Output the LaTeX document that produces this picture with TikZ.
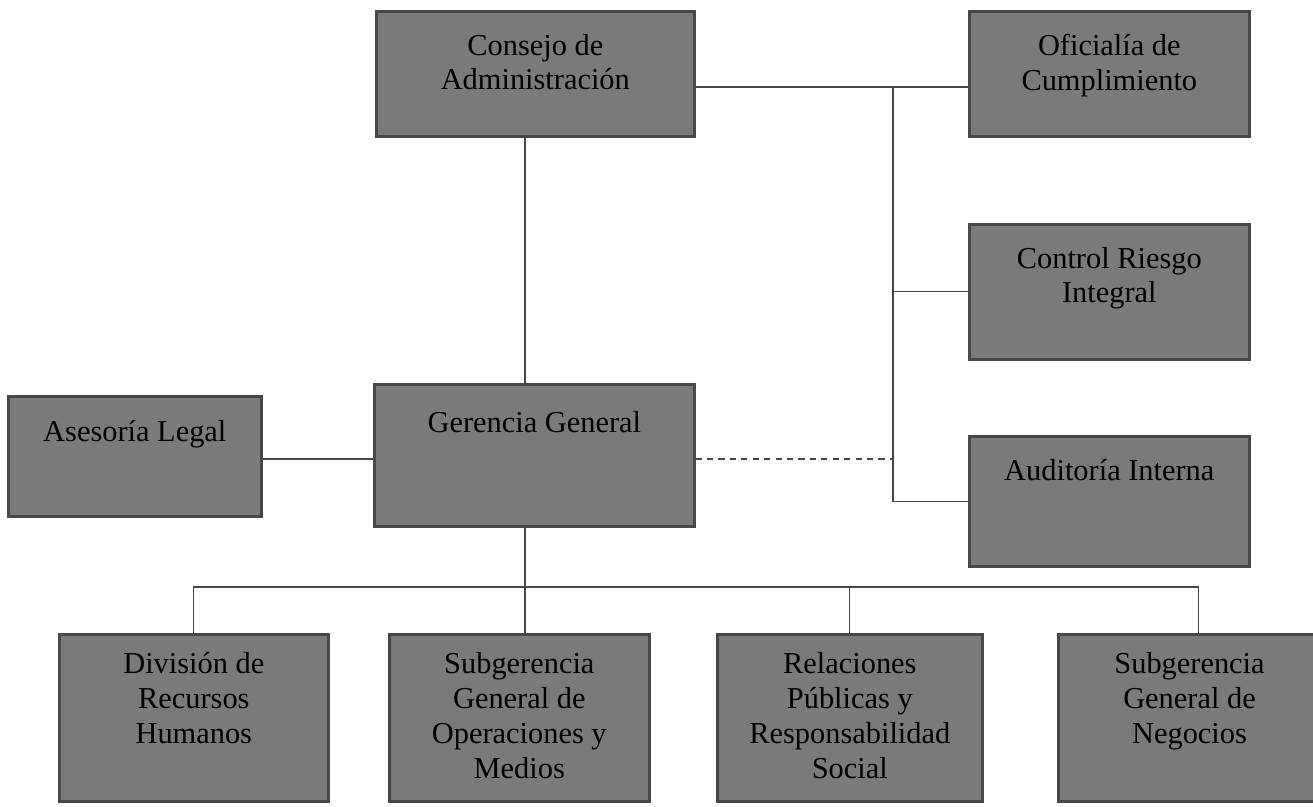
\documentclass[tikz,border=0pt]{standalone}
\usepackage{fontspec}
\setmainfont{Liberation Serif}
\usepackage{tikz}
\usetikzlibrary{positioning}
\definecolor{boxgray}{RGB}{122,122,122}
\definecolor{rimgray}{RGB}{72,72,72}
\definecolor{wiregray}{RGB}{70,70,70}
\tikzset{
unit/.style = {rectangle, draw=rimgray, fill=boxgray, line width=1.5pt, anchor=north west, inner sep=0pt},
boxtext/.style = {align=center, inner sep=0pt, font=\fontsize{17.3pt}{19.8pt}\selectfont},
link/.style = {draw=wiregray, line width=0.6pt},
dashlink/.style = {link, dash pattern=on 3.5pt off 3pt}
}

\begin{document}
\begin{tikzpicture}[x=0.02cm, y=-0.02cm]
    \useasboundingbox (0,0) rectangle (1313,807);
    % upper boxes
    \node [unit, minimum width=318*0.02cm, minimum height=125*0.02cm] (consejo) at (375,10) {};
    \node [unit, minimum width=280*0.02cm, minimum height=125*0.02cm] (oficialia) at (968,10) {};
    \node [unit, minimum width=280*0.02cm, minimum height=135*0.02cm] (control) at (968,223) {};
    \node [unit, minimum width=280*0.02cm, minimum height=130*0.02cm] (auditoria) at (968,435) {};
    \node [unit, minimum width=253*0.02cm, minimum height=120*0.02cm] (asesoria) at (7,395) {};
    \node [unit, minimum width=320*0.02cm, minimum height=142*0.02cm] (gerencia) at (373,383) {};
    % lower row
    \node [unit, minimum width=269*0.02cm, minimum height=167*0.02cm] (rrhh) at (58,633) {};
    \node [unit, minimum width=260*0.02cm, minimum height=167*0.02cm] (operaciones) at (388,633) {};
    \node [unit, minimum width=265*0.02cm, minimum height=167*0.02cm] (relaciones) at (716,633) {};
    \node [unit, minimum width=280*0.02cm, minimum height=167*0.02cm] (negocios) at (1057,633) {};

    % texts
    \node [boxtext, below=13.5pt of consejo.north] (consejo-t) {Consejo de\\Administración};
    \node [boxtext, below=13.5pt of oficialia.north] (oficialia-t) {Oficialía de\\Cumplimiento};
    \node [boxtext, below=13.5pt of control.north] (control-t) {Control Riesgo\\Integral};
    \node [boxtext, below=13.5pt of auditoria.north] (auditoria-t) {Auditoría Interna};
    \node [boxtext, below=14.5pt of asesoria.north] (asesoria-t) {Asesoría Legal};
    \node [boxtext, below=16pt of gerencia.north] (gerencia-t) {Gerencia General};
    \node [boxtext, below=11pt of rrhh.north] (rrhh-t) {División de\\Recursos\\Humanos};
    \node [boxtext, below=11pt of operaciones.north] (operaciones-t) {Subgerencia\\General de\\Operaciones y\\Medios};
    \node [boxtext, below=11pt of relaciones.north] (relaciones-t) {Relaciones\\Públicas y\\Responsabilidad\\Social};
    \node [boxtext, below=11pt of negocios.north, xshift=-5pt] (negocios-t) {Subgerencia\\General de\\Negocios};

    % connectors
    \coordinate (trunk) at (525,587);
    \coordinate (riser) at (893,87);
    \coordinate (side) at (373,459);
    \path [link] (consejo.south -| trunk) -- (gerencia.north -| trunk);
    \path [link] (asesoria.east |- side) -- (side);
    \path [link] (consejo.east |- riser) -- (oficialia.west |- riser);
    \path [link] (riser) |- (auditoria.west);
    \path [link] (riser |- control.west) -- (control.west);
    \path [dashlink] (gerencia.east |- side) -- (riser |- side);
    \path [link] (gerencia.south -| trunk) -- (trunk);
    \path [link] (rrhh.north) -- (rrhh.north |- trunk) -- (negocios.north |- trunk) -- (negocios.north);
    \path [link] (trunk) -- (operaciones.north -| trunk);
    \path [link] (relaciones.north |- trunk) -- (relaciones.north);
\end{tikzpicture}
\end{document}
